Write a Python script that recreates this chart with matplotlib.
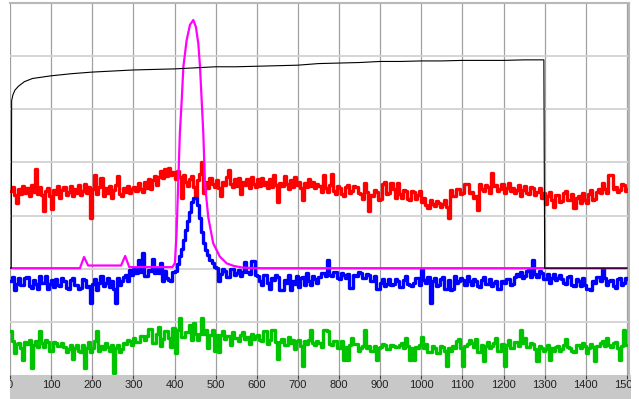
import numpy as np
import matplotlib
matplotlib.use('Agg')
import matplotlib.pyplot as plt

# x positions of the sampled channels (one value every 5 units)
x_pos = np.arange(0, 1505, 5)

# red channel
red_vals = [
    34.6, 35.4, 33.8, 32.4, 35.0, 34.0, 35.6, 34.2, 35.2, 33.6,
    35.8, 34.4, 38.8, 34.0, 35.4, 33.8, 30.9, 34.6, 35.2, 33.6,
    31.2, 34.8, 34.0, 35.6, 33.4, 34.8, 35.4, 33.8, 34.4, 35.6,
    33.6, 35.0, 34.2, 35.8, 33.8, 34.6, 36.0, 34.2, 35.4, 29.6,
    35.0, 37.6, 34.0, 35.4, 37.0, 33.6, 35.2, 34.2, 35.6, 33.4,
    34.8, 35.8, 37.4, 34.0, 33.6, 35.2, 34.4, 35.6, 34.2, 35.0,
    35.4, 34.6, 36.2, 35.0, 34.4, 36.4, 35.2, 36.8, 35.0, 36.6, 37.4, 35.8,
    37.2, 38.4, 37.0, 38.8, 37.4, 39.0, 37.6, 38.2, 36.8, 38.4, 37.2, 33.4, 37.6, 36.4,
    35.6, 36.8, 37.4, 35.4, 33.4, 36.6, 37.8, 40.0, 34.2, 36.4, 35.2, 37.0, 36.0, 35.4,
    36.6, 35.2, 33.6, 36.4, 35.8, 37.2, 38.6, 36.0, 35.4, 36.8,
    35.6, 37.0, 34.0, 36.4, 35.8, 36.8, 35.2, 37.2, 36.0, 35.4,
    36.8, 35.6, 37.0, 35.8, 36.4, 35.2, 36.8, 35.4, 37.6, 35.8,
    32.6, 36.2, 35.6, 37.4, 36.0, 35.0, 36.6, 35.4, 37.2, 35.8,
    36.4, 35.2, 33.0, 36.2, 35.4, 36.8, 35.6, 36.4, 35.2, 36.0,
    35.6, 34.4, 37.6, 35.2, 34.4, 35.8, 37.8, 34.6, 34.0, 35.6,
    35.2, 34.0, 33.6, 35.4, 35.8, 34.2, 34.6, 35.6, 35.4, 34.2,
    34.0, 33.2, 36.2, 34.4, 30.9, 33.8, 33.6, 34.8, 34.4, 33.0,
    33.2, 36.0, 36.4, 34.0, 34.2, 36.2, 35.0, 33.4, 36.2, 34.0,
    33.4, 34.8, 34.6, 33.2, 33.0, 34.6, 34.4, 33.2, 33.8, 34.6,
    32.6, 33.4, 32.0, 31.4, 33.0, 32.2, 31.8, 32.8, 32.4, 31.6, 32.2, 33.0,
    31.6, 29.6,
    34.8, 33.6, 33.6, 35.0, 35.0, 34.0, 34.2, 36.0, 36.0, 34.2, 34.4, 33.4, 33.6, 31.0,
    36.0, 35.0, 34.6, 35.8, 35.4, 34.2, 38.0, 35.6, 35.8, 34.6,
    35.0, 36.0, 34.2, 35.2, 36.2, 34.6, 35.2, 34.2, 34.8, 35.8,
    33.6, 34.8, 35.6, 34.2, 34.0, 35.4, 35.2, 33.8, 34.4, 35.2,
    33.4, 34.2, 32.2, 33.6, 34.4, 33.0, 31.6, 33.8, 33.8, 32.6,
    32.8, 34.2, 34.6, 33.0, 33.0, 34.0, 31.4, 33.4, 33.6, 32.4,
    34.2, 33.0, 32.4, 34.0, 34.8, 33.0, 33.2, 34.4,
    35.0, 34.2, 36.2, 35.0, 34.2, 37.6, 37.6, 35.0, 35.4, 34.4,
    34.8, 36.0, 35.8, 34.6, 35.0]

# blue channel
blue_vals = [
    17.6, 18.4, 16.0, 17.2, 18.2, 17.0, 17.0, 18.2, 18.4, 16.8,
    16.4, 17.8, 17.2, 16.2, 18.6, 17.4, 17.4, 18.6, 16.2, 17.2,
    17.8, 16.6, 18.0, 17.0, 16.8, 18.2, 17.6, 16.4, 16.2, 17.8,
    18.2, 17.0, 17.0, 16.2, 16.4, 18.0, 17.8, 16.6, 16.8, 13.6,
    17.2, 18.0, 16.0, 17.4, 18.6, 16.8, 17.4, 18.2, 16.6, 17.6,
    16.2, 13.6, 18.2, 17.0, 17.6, 18.4, 18.8, 17.6,
    19.8, 18.8, 20.0, 19.2, 21.6, 19.4, 23.0, 18.6, 18.6, 19.8,
    19.6, 21.8, 19.2, 20.0, 19.2, 21.0, 17.6, 19.6, 18.2, 17.8, 17.6, 19.4,
    19.6, 20.8, 22.4, 23.8, 25.4, 27.2, 29.0, 30.6, 32.6, 33.4,
    33.3, 32.0, 29.6, 27.0, 24.8, 23.6, 22.6, 21.6, 21.0, 20.4,
    20.2, 17.6, 19.0, 20.0, 19.6, 18.4, 18.4, 20.0, 20.0, 18.8,
    19.2, 19.8, 18.6, 19.4, 21.2, 19.4, 19.0, 21.4, 21.4, 18.8,
    18.6, 17.6, 17.0, 18.8, 18.8, 17.4, 16.2, 18.2, 17.8, 18.8,
    18.4, 16.0, 16.0, 17.8, 17.4, 18.8, 16.0, 17.6, 17.2, 18.6,
    16.6, 18.2, 18.4, 17.0, 19.2, 17.6, 17.0, 18.6, 18.0, 17.4,
    18.4, 19.2, 19.2, 18.6, 21.6, 18.8, 18.6, 19.4, 19.4, 18.2,
    18.0, 19.2, 18.8, 18.2, 19.0, 16.4, 16.4, 18.8, 18.6, 19.4,
    19.2, 18.2, 18.2, 19.0, 18.8, 17.6, 17.6, 18.6, 16.2, 16.2,
    17.4, 18.0, 16.8, 17.2, 18.0, 17.0, 17.2, 18.0, 17.6, 16.6,
    16.6, 17.8, 18.6, 17.2, 17.0, 16.8, 17.4, 18.2, 18.2, 17.0,
    20.0, 17.8, 17.4, 18.4, 13.6, 17.6, 18.2, 16.8, 17.0, 18.0,
    18.4, 16.2, 16.2, 17.8, 16.0, 16.2, 18.6, 17.4, 17.6, 18.2,
    17.8, 17.0, 18.6, 17.6, 17.0, 18.0, 17.6, 16.8, 16.6, 17.8,
    18.4, 17.2, 17.2, 18.0, 16.8, 17.4, 17.6, 16.2, 16.2, 17.6,
    17.4, 18.0, 18.0, 17.0, 17.2, 18.4, 19.0, 18.6,
    19.4, 18.2, 18.6, 19.6, 19.8, 18.4, 21.6, 19.0, 18.4, 19.6,
    19.2, 18.0, 18.0, 19.0, 17.4, 18.2, 19.0, 17.8, 18.2, 18.8,
    18.0, 17.4, 17.2, 18.4, 18.6, 17.0, 16.8, 18.0, 17.6, 16.8,
    18.2, 17.0, 16.2, 16.2, 16.0, 17.6, 17.4, 18.4, 18.4, 17.6,
    20.0, 18.2, 17.0, 17.6, 17.8, 16.8, 16.4, 18.0, 18.2, 17.0,
    17.4, 18.2, 18.0]

# green channel
green_vals = [
    8.2, 6.4, 4.2, 5.8, 6.0, 5.0, 2.8, 6.2, 5.8, 6.6,
    1.4, 5.6, 6.4, 5.2, 8.2, 6.0, 5.2, 6.6, 6.2, 4.6,
    4.6, 6.2, 6.0, 5.4, 5.4, 6.0,
    5.2, 4.4, 4.8, 5.6, 3.0, 5.0, 5.6, 4.6, 4.4, 5.6,
    1.4, 5.0, 6.2, 4.4, 5.0, 6.4, 8.2, 4.6, 5.4, 4.8,
    6.0, 5.2, 4.6, 5.6, 0.4, 5.0, 5.6, 4.4, 4.8, 6.0,
    5.8, 6.6, 6.4, 5.6, 7.0, 6.2, 6.2, 7.4, 7.4, 6.6,
    7.4, 8.6, 8.6, 6.0, 6.0, 7.8, 9.0, 5.4, 6.8, 8.2,
    8.2, 7.0, 5.2, 8.8, 4.2, 8.4, 10.8, 7.2, 7.2, 8.0,
    8.0, 9.4, 6.6, 9.8, 7.8, 6.6, 7.8, 10.8, 7.8, 8.4,
    5.0, 7.6, 8.4, 4.6, 7.6, 4.4, 7.6, 8.2, 6.8, 7.4,
    7.4, 5.6, 8.0, 7.0, 7.0, 6.4, 7.6, 8.0, 6.8, 7.2,
    5.8, 7.8, 6.8, 7.4, 7.6, 6.6,
    6.4, 8.2, 8.2, 5.8, 6.6, 8.4, 8.4, 6.2, 3.0, 6.2,
    6.8, 5.6, 5.6, 7.2, 6.0, 6.6, 4.8, 6.4, 6.6, 5.4,
    1.6, 6.4, 5.8, 6.6, 8.4, 6.0, 5.6, 6.4,
    6.0, 5.2, 8.4, 8.4, 8.2, 5.8, 5.6, 6.4, 6.4, 5.0,
    5.0, 6.4, 2.8, 5.2, 2.8, 5.6, 7.0, 5.8, 5.8, 4.6,
    5.0, 5.4, 8.4, 5.0, 5.4, 4.6, 4.6, 5.4, 2.8, 5.0,
    5.2, 5.8, 5.6, 4.8, 4.8, 5.6, 5.4, 5.2, 5.2, 5.6,
    6.0, 5.0, 7.0, 5.4, 2.8, 5.0, 2.8, 5.2, 5.0, 5.6,
    7.2, 5.0, 5.8, 4.4, 4.4, 5.4, 5.0, 4.2, 4.2, 5.4,
    5.2, 4.6, 1.6, 5.0, 4.6, 5.4, 5.0, 6.4, 6.8, 5.0,
    1.6, 5.4, 5.8, 6.6, 6.0, 5.2, 6.8, 4.4, 4.4, 5.6,
    2.6, 5.4, 6.2, 5.0, 5.4, 6.0, 7.0, 4.6, 4.6, 5.8,
    1.6, 5.6, 6.6, 5.0, 5.0, 6.2, 6.2, 5.4, 8.4, 6.0,
    7.0, 5.2, 5.2, 6.0, 5.8, 4.8, 2.6, 5.4, 5.0, 4.6,
    4.8, 5.6, 2.8, 5.0, 4.6, 5.2, 5.4, 4.6, 4.8, 5.6,
    6.8, 5.2, 5.0, 4.6, 4.4, 5.6, 5.6, 5.0, 6.0, 5.4,
    4.2, 5.0, 5.8, 5.2, 2.6, 5.4, 5.4, 6.0, 6.4, 5.4,
    7.0, 5.6, 5.2, 6.0, 6.2, 5.0, 2.8, 5.4, 8.4, 5.6, 5.6]

# magenta peak trace
mag_x = [0, 170, 180, 190, 270, 280, 290, 395, 401, 405, 409, 413, 417.5,
         421.5, 429.5, 437.6, 445.7, 452, 457.8, 462, 466, 470, 474, 482,
         494, 510, 527, 545, 567, 600, 1500]
mag_y = [20.1, 20.1, 22.2, 20.6, 20.6, 22.4, 20.3, 20.3, 21.1, 26.7, 36.1,
         45.5, 51.7, 58.0, 63.0, 65.9, 66.8, 65.5, 62.4, 58.0, 51.7, 45.5,
         36.1, 29.7, 24.8, 22.3, 21.0, 20.5, 20.2, 20.1, 20.1]

# black curve
blk_x = [0, 3, 4, 7, 12, 20, 35, 55, 100, 150, 200, 250, 300, 350, 400,
         450, 500, 550, 600, 650, 700, 750, 800, 850, 900, 950, 1000, 1050,
         1100, 1150, 1200, 1250, 1298, 1300, 1500]
blk_y = [20.1, 20.1, 51.6, 52.7, 53.6, 54.3, 55.2, 55.8, 56.3, 56.7, 57.0,
         57.2, 57.4, 57.5, 57.6, 57.8, 58.0, 58.0, 58.1, 58.2, 58.3, 58.6,
         58.7, 58.8, 59.0, 59.0, 59.1, 59.1, 59.2, 59.2, 59.2, 59.3, 59.3,
         20.1, 20.1]

tick_vals = list(range(0, 1600, 100))

fig = plt.figure(figsize=(6.39, 3.99), dpi=100)
W, H = 639.0, 399.0

# main plot area
ax = fig.add_axes([10 / W, 1 - 375 / H, 619 / W, 372 / H])
ax.set_xlim(0, 1505)
ax.set_ylim(0, 70)
ax.set_xticks(tick_vals)
ax.set_yticks(range(10, 70, 10))
ax.tick_params(length=0, labelbottom=False, labelleft=False)
ax.grid(axis='x', color='#a0a0a0', lw=0.9)
ax.grid(axis='y', color='#d2d2d2', lw=1.3)
ax.set_axisbelow(True)
for side in ['left', 'bottom']:
    ax.spines[side].set_visible(False)
for side in ['top', 'right']:
    ax.spines[side].set_color('#b8b8b8')
    ax.spines[side].set_linewidth(1.5)

ax.plot(x_pos, red_vals, drawstyle='steps-post', color='#ff0000', lw=2.4)
ax.plot(x_pos, green_vals, drawstyle='steps-post', color='#00c400', lw=2.4)
ax.plot(x_pos, blue_vals, drawstyle='steps-post', color='#0000ff', lw=2.4)
ax.plot(mag_x, mag_y, color='#ff00ff', lw=1.6)
ax.plot(blk_x, blk_y, color='black', lw=0.8)

# grey scale strip at the bottom
band = fig.add_axes([10 / W, 0, 621 / W, 24 / H])
band.set_facecolor('#c8c8c8')
band.set_xlim(0, 1510)
band.set_ylim(0, 1)
band.set_yticks([])
band.set_xticks(tick_vals)
band.xaxis.set_ticks_position('top')
band.tick_params(axis='x', direction='in', length=3, color='#404040',
                 labeltop=False, labelbottom=False)
for s in band.spines.values():
    s.set_visible(False)
for t in tick_vals:
    band.text(t, 0.6, str(t), ha='center', va='center', fontsize=8,
              family='Liberation Sans', color='#222222', clip_on=True)

plt.savefig('out.png', dpi=100)
